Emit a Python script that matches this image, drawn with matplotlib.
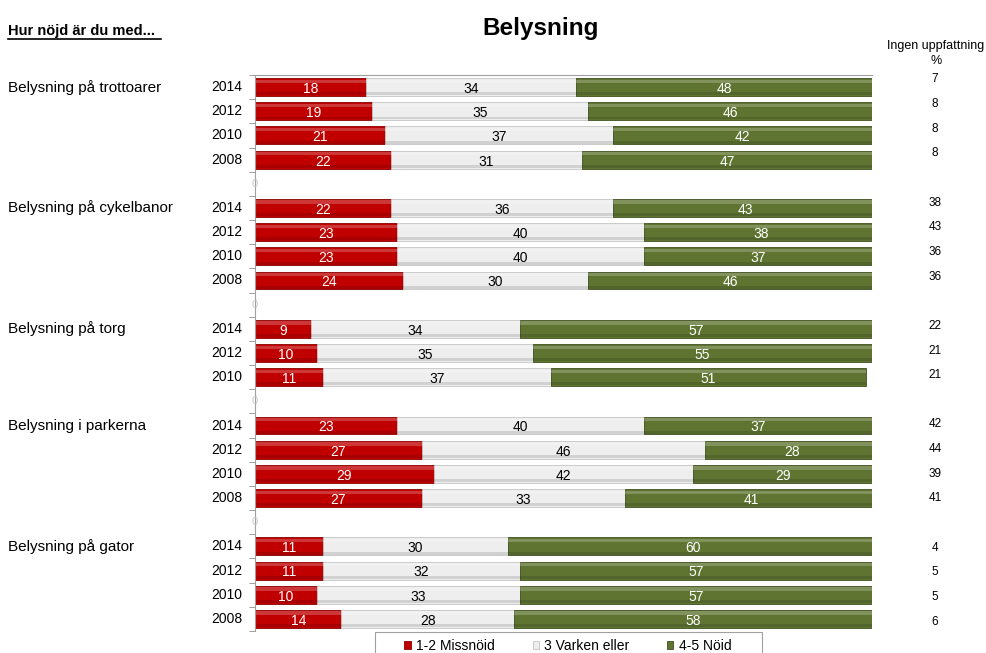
import matplotlib.pyplot as plt
from matplotlib.patches import Rectangle
from matplotlib.lines import Line2D

plt.rcParams['font.family'] = ['Liberation Sans', 'DejaVu Sans']

groups = ["Belysning på trottoarer", "Belysning på cykelbanor", "Belysning på torg",
          "Belysning i parkerna", "Belysning på gator"]
years = [["2014", "2012", "2010", "2008"],
         ["2014", "2012", "2010", "2008"],
         ["2014", "2012", "2010"],
         ["2014", "2012", "2010", "2008"],
         ["2014", "2012", "2010", "2008"]]
missnojd = [[18, 19, 21, 22], [22, 23, 23, 24], [9, 10, 11], [23, 27, 29, 27], [11, 11, 10, 14]]
varken = [[34, 35, 37, 31], [36, 40, 40, 30], [34, 35, 37], [40, 46, 42, 33], [30, 32, 33, 28]]
nojd = [[48, 46, 42, 47], [43, 38, 37, 46], [57, 55, 51], [37, 28, 29, 41], [60, 57, 57, 58]]
ingen = [[7, 8, 8, 8], [38, 43, 36, 36], [22, 21, 21], [42, 44, 39, 41], [4, 5, 5, 6]]

series_labels = ["1-2 Missnöid", "3 Varken eller", "4-5 Nöid"]
colors = ["#C00000", "#EEEEEE", "#5E7430"]
edges = ["#8A0000", "#C4C4C4", "#3F5020"]
text_colors = ["white", "black", "white"]

W, H = 987, 653
fig = plt.figure(figsize=(W / 100, H / 100), dpi=100)

# main bar axes: 0..100 % between x=255 and x=872 px
n_slots = sum(len(y) for y in years) + len(groups) - 1
ax = fig.add_axes([255 / W, 1 - 631 / H, 617 / W, 556 / H])
ax.set_xlim(0, 100)
ax.set_ylim(n_slots - 0.5, -0.5)

# right column axes (values sit on a slightly different grid)
axr = fig.add_axes([905 / W, 1 - 634 / H, 60 / W, 567 / H])
axr.set_xlim(0, 1)
axr.set_ylim(n_slots - 0.5, -0.5)
axr.axis("off")

slot = 0
for g, name in enumerate(groups):
    for i, yr in enumerate(years[g]):
        vals = [missnojd[g][i], varken[g][i], nojd[g][i]]
        left = 0
        for k, v in enumerate(vals):
            ax.barh(slot, v, left=left, height=0.74, color=colors[k],
                    edgecolor=edges[k], linewidth=0.6)
            # bevel: light band on top, darker band at the bottom
            ax.barh(slot - 0.24, v, left=left, height=0.14, color="white",
                    alpha=0.22, linewidth=0)
            ax.barh(slot + 0.28, v, left=left, height=0.12, color="black",
                    alpha=0.12, linewidth=0)
            ax.text(left + v / 2, slot + 0.08, str(v), ha="center", va="center",
                    fontsize=10, color=text_colors[k])
            left += v
        ax.text(-2.0, slot, yr, ha="right", va="center", fontsize=10)
        if i == 0:
            ax.text(-40.0, slot, name, ha="left", va="center", fontsize=11)
        axr.text(0.5, slot, str(ingen[g][i]), ha="center", va="center", fontsize=8.5)
        slot += 1
    if g < len(groups) - 1:
        ax.text(0, slot, "0", ha="center", va="center", fontsize=8, color="#C8C8C8")
        slot += 1

ax.set_xticks([])
ax.set_yticks([])
ax.set_yticks([s - 0.5 for s in range(n_slots + 1)], minor=True)
ax.tick_params(axis="y", which="minor", length=4, color="#909090", labelleft=False)
ax.spines["right"].set_visible(False)
ax.spines["bottom"].set_visible(False)
for sp in ["left", "top"]:
    ax.spines[sp].set_color("#A0A0A0")
    ax.spines[sp].set_linewidth(0.8)

fig.text(541 / W, 1 - 28 / H, "Belysning", ha="center", va="center",
         fontsize=17.5, fontweight="bold")
fig.text(8 / W, 1 - 31 / H, "Hur nöjd är du med...", ha="left", va="center",
         fontsize=10.5, fontweight="bold")
fig.add_artist(Line2D([8 / W, 161 / W], [1 - 38.5 / H, 1 - 38.5 / H], color="black", lw=1.2))
fig.text(936 / W, 1 - 46 / H, "Ingen uppfattning", ha="center", va="center", fontsize=9)
fig.text(936 / W, 1 - 61 / H, "%", ha="center", va="center", fontsize=9)

# legend: entries without frame, frame box drawn separately
handles = [Rectangle((0, 0), 1, 1, facecolor=c, edgecolor=e, linewidth=0.6)
           for c, e in zip(colors, edges)]
leg = fig.legend(handles, series_labels, loc="center", ncol=3,
                 bbox_to_anchor=(568 / W, 1 - 646 / H), fontsize=10,
                 frameon=False, handlelength=0.45, handleheight=0.55,
                 handletextpad=0.4, columnspacing=2.7, borderpad=0)
fig.add_artist(Rectangle((375 / W, -0.02), 387 / W, 1 - 632 / H + 0.02,
                         transform=fig.transFigure, facecolor="none",
                         edgecolor="#A0A0A0", linewidth=0.8))

fig.savefig("out.png", dpi=100)
